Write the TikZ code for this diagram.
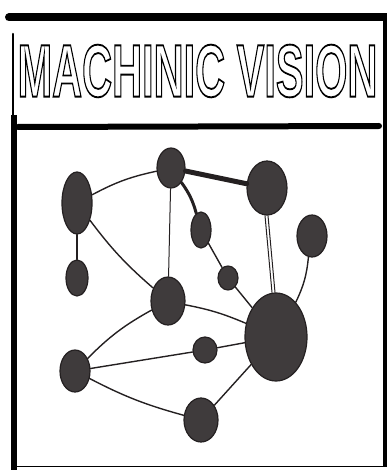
\documentclass[tikz,border=0pt]{standalone}
\usepackage{fontspec}
\setmainfont{Liberation Sans}
\usetikzlibrary{shapes.geometric}
\definecolor{inkgray}{RGB}{63,59,60}
\definecolor{inkdark}{RGB}{36,32,33}
% hollow letters: stroke the glyph outlines only
\newcommand\hollowtext[1]{\special{pdf:code q 1 Tr 1.8 w}#1\special{pdf:code Q}}
\tikzset{
  blob/.style={ellipse, fill=inkgray, draw=inkdark, line width=1.2pt, inner sep=0pt},
  wire/.style={draw=inkdark, line width=1.4pt, line cap=round},
  heavywire/.style={wire, line width=5pt},
  border/.style={draw=black, line cap=round},
  titletext/.style={inner sep=0pt, font=\fontsize{72}{72}\selectfont\bfseries},
}

\begin{document}
\begin{tikzpicture}[x=1pt, y=-1pt]
  \useasboundingbox (0,0) rectangle (387,470);
  % panel frame
  \draw[border, line width=8pt] (9,17.5) -- (390,17.5);
  \draw[border, line width=4pt, line cap=butt] (385,17) -- (385,467);
  \draw[border, line width=2.5pt] (13,34) -- (13,118);
  \draw[border, line width=6pt, line cap=butt] (14,115) -- (14,470);
  \draw[border, line width=6pt] (18,127) -- (379,126);
  \draw[border, line width=1.5pt] (16,466.5) -- (385,466.5);
  % title
  \node[titletext] (title) at (197.5,71) {\resizebox{360pt}{52pt}{\hollowtext{MACHINIC VISION}}};
  % network
  \node[blob, minimum width=30pt, minimum height=62pt] (leftbig) at (77,203) {};
  \node[blob, minimum width=28pt, minimum height=40pt] (crown) at (171,168) {};
  \node[blob, minimum width=40pt, minimum height=54pt] (topright) at (267,188) {};
  \node[blob, minimum width=20pt, minimum height=36pt] (mid) at (201,230) {};
  \node[blob, minimum width=30pt, minimum height=42pt] (rightsmall) at (312,236) {};
  \node[blob, minimum width=22pt, minimum height=36pt] (leftsmall) at (77,278) {};
  \node[blob, minimum width=20pt, minimum height=24pt] (tiny) at (228,278) {};
  \node[blob, minimum width=34pt, minimum height=48pt] (center) at (168,301) {};
  \node[blob, minimum width=62pt, minimum height=88pt] (hub) at (276,337) {};
  \node[blob, minimum width=24pt, minimum height=26pt] (dot) at (205,350) {};
  \node[blob, minimum width=30pt, minimum height=42pt] (lowleft) at (75,371) {};
  \node[blob, minimum width=34pt, minimum height=44pt] (bottom) at (201,420) {};
  % links
  \draw[wire] (leftbig) to[bend left=8] (crown);
  \draw[heavywire] (crown) -- (topright);
  \draw[wire, line width=3pt] (crown) to[bend left=10] (mid);
  \draw[wire, line width=1pt] (crown) -- (center);
  \draw[wire] (mid) -- (tiny);
  \draw[wire] (tiny) -- (hub);
  \draw[wire] (leftbig) to[bend right=6] (center);
  \draw[wire, line width=2pt] (leftbig) -- (leftsmall);
  \draw[wire, line width=1pt] ([xshift=-2pt]topright.south) -- ([xshift=-4pt]hub.north);
  \draw[wire, line width=1pt] ([xshift=1pt]topright.south) -- ([xshift=-1pt]hub.north);
  \draw[wire] (rightsmall) to[bend left=10] (hub);
  \draw[wire] (center) to[bend left=6] (hub);
  \draw[wire] (lowleft) to[bend left=8] (center);
  \draw[wire] (lowleft) -- (dot);
  \draw[wire] (dot) -- (hub);
  \draw[wire] (lowleft) to[bend right=6] (bottom);
  \draw[wire] (bottom) -- (hub);
\end{tikzpicture}
\end{document}
